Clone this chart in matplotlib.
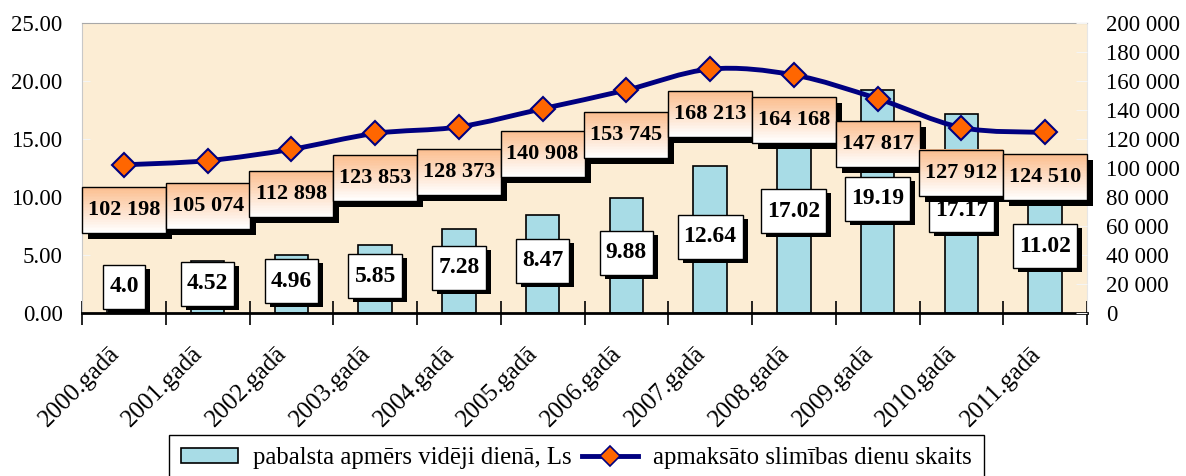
import numpy as np
import matplotlib.pyplot as plt
import matplotlib.transforms as mtransforms
from matplotlib.patches import Rectangle, PathPatch, Patch
from matplotlib.lines import Line2D
from matplotlib.path import Path

plt.rcParams['font.family'] = ['Liberation Serif', 'DejaVu Serif']

# dati
years = ['2000.gadā', '2001.gadā', '2002.gadā', '2003.gadā', '2004.gadā', '2005.gadā',
         '2006.gadā', '2007.gadā', '2008.gadā', '2009.gadā', '2010.gadā', '2011.gadā']
benefit = [4.0, 4.52, 4.96, 5.85, 7.28, 8.47, 9.88, 12.64, 17.02, 19.19, 17.17, 11.02]
benefit_text = ['4.0', '4.52', '4.96', '5.85', '7.28', '8.47', '9.88', '12.64',
                '17.02', '19.19', '17.17', '11.02']
days = [102198, 105074, 112898, 123853, 128373, 140908, 153745, 168213,
        164168, 147817, 127912, 124510]
left_ticks = [0, 5, 10, 15, 20, 25]
right_ticks = [0, 20000, 40000, 60000, 80000, 100000, 120000, 140000, 160000, 180000, 200000]
legend_labels = ['pabalsta apmērs vidēji dienā, Ls', 'apmaksāto slimības dienu skaits']

NAVY = '#000080'
ORANGE = '#FF6600'
BAR = '#A8DCE6'
PEACH = np.array([0.985, 0.745, 0.56])

W, H = 1186, 476
fig = plt.figure(figsize=(W / 100, H / 100), dpi=100)
ax = fig.add_axes([82 / W, 1 - 313 / H, 1005 / W, 290 / H])
ax.set_facecolor('#FCEDD4')

x = np.arange(len(years))
ax.bar(x, benefit, width=0.4, color=BAR, edgecolor='black', linewidth=1.2, zorder=2)
ax.set_xlim(-0.5, 11.5)
ax.set_ylim(0, 25)
ax.set_yticks(left_ticks)
ax.set_yticklabels([f'{v:.2f}' for v in left_ticks])
ax.tick_params(axis='y', direction='in', length=6, color='#F4F4F4', labelsize=16.5, pad=14)
ax.set_xticks(x)
ax.set_xticklabels(years, rotation=45, ha='right', va='center', rotation_mode='anchor')
ax.tick_params(axis='x', which='major', length=0, pad=27, labelsize=18)
shift = mtransforms.ScaledTranslation(-8 / 100, 0, fig.dpi_scale_trans)
for lbl in ax.get_xticklabels():
    lbl.set_transform(lbl.get_transform() + shift)
ax.set_xticks(np.arange(-0.5, 12, 1), minor=True)
ax.tick_params(axis='x', which='minor', direction='inout', length=17, width=1.2, color='black')

ax.spines['top'].set_color('#A8A8A8')
ax.spines['left'].set_color('#C8C8C8')
ax.spines['right'].set_color('#E6E6E6')
ax.spines['bottom'].set_color('black')
ax.spines['bottom'].set_linewidth(2)

ax2 = ax.twinx()
ax2.set_ylim(0, 200000)
ax2.set_yticks(right_ticks)
ax2.set_yticklabels([f'{v:,}'.replace(',', ' ') for v in right_ticks])
ax2.tick_params(axis='y', direction='in', length=8, color='#F4F4F4', labelsize=16.5, pad=14)
for s in ax2.spines.values():
    s.set_visible(False)

# gluda līkne (Bezier caur punktiem)
pts = np.column_stack([x, days]).astype(float)
verts = [pts[0]]
codes = [Path.MOVETO]
n = len(pts)
for i in range(n - 1):
    p0 = pts[max(i - 1, 0)]
    p1 = pts[i]
    p2 = pts[i + 1]
    p3 = pts[min(i + 2, n - 1)]
    verts += [p1 + (p2 - p0) / 6, p2 - (p3 - p1) / 6, p2]
    codes += [Path.CURVE4] * 3
ax2.add_patch(PathPatch(Path(verts, codes), fill=False, edgecolor=NAVY, lw=3.5,
                        zorder=3, capstyle='round'))
ax2.plot(x, days, linestyle='none', marker='D', ms=12.5, mfc=ORANGE, mec=NAVY,
         mew=1.5, zorder=4)

px = 1 / fig.dpi
renderer = fig.canvas.get_renderer()


def label_box(xd, yd, trans, text, w, h, dx, dy, sx, sy, z, gradient, fs):
    tr = fig.dpi_scale_trans + mtransforms.ScaledTranslation(xd, yd, trans)
    cx, cy = dx * px, dy * px
    ww, hh = w * px, h * px
    ax2.add_patch(Rectangle((cx - ww / 2 + sx * px, cy - hh / 2 + sy * px), ww, hh,
                            transform=tr, facecolor='black', edgecolor='none',
                            zorder=z, clip_on=False))
    if gradient:
        steps = 30
        for k in range(steps):
            f = k / (steps - 1)
            c = PEACH * (1 - f) + np.ones(3) * f
            ax2.add_patch(Rectangle((cx - ww / 2, cy + hh / 2 - (k + 1) * hh / steps), ww,
                                    hh / steps * 1.05, transform=tr, facecolor=c,
                                    edgecolor='none', zorder=z + 0.001, clip_on=False))
    else:
        ax2.add_patch(Rectangle((cx - ww / 2, cy - hh / 2), ww, hh, transform=tr,
                                facecolor='white', edgecolor='none', zorder=z + 0.001,
                                clip_on=False))
    ax2.add_patch(Rectangle((cx - ww / 2, cy - hh / 2), ww, hh, transform=tr,
                            facecolor='none', edgecolor='black', lw=1.0,
                            zorder=z + 0.002, clip_on=False))
    ax2.text(cx, cy, text, transform=tr, ha='center', va='center', fontsize=fs,
             fontweight='bold', zorder=z + 0.003, clip_on=False)


# stabiņu etiķetes
for i, (v, t) in enumerate(zip(benefit, benefit_text)):
    tmp = ax2.text(0, 0, t, fontsize=17, fontweight='bold')
    tw = tmp.get_window_extent(renderer).width
    tmp.remove()
    label_box(i, v / 2, ax.transData, t, tw + 12, 44, 0, 3, 5, -4, 4.5 + i * 0.01, False, 17)

# līknes etiķetes
for i, v in enumerate(days):
    t = f'{v:,}'.replace(',', ' ')
    label_box(i, v, ax2.transData, t, 84, 46, 0, -45, 6, -6, 5 + i * 0.01, True, 16)

handles = [Patch(facecolor=BAR, edgecolor='black', lw=1.2),
           Line2D([], [], color=NAVY, lw=3.5, marker='D', ms=10, mfc=ORANGE, mec=NAVY, mew=1.2)]
fig.legend(handles, legend_labels, loc='upper left', bbox_to_anchor=(169 / W, 1 - 435 / H),
           ncol=2, fontsize=17.8, frameon=True, fancybox=False, edgecolor='black',
           framealpha=1, borderaxespad=0, borderpad=0.5, handlelength=2.3,
           handleheight=0.6, handletextpad=0.6, columnspacing=0.4)

fig.savefig('out.png', dpi=100)
